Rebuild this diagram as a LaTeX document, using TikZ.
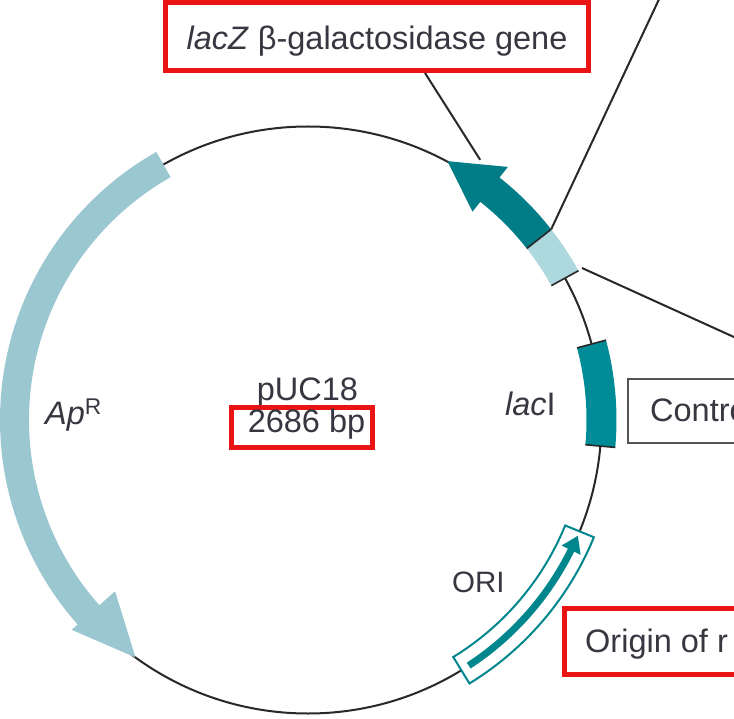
\documentclass[tikz,border=0pt]{standalone}
\usepackage{fontspec}
\setmainfont{Liberation Sans}
\usetikzlibrary{arrows.meta,bending}
\definecolor{apcol}{RGB}{155,200,208}
\definecolor{zcol}{RGB}{0,125,135}
\definecolor{lightcol}{RGB}{172,216,222}
\definecolor{icol}{RGB}{0,140,150}
\definecolor{oricol}{RGB}{0,135,142}
\definecolor{txtcol}{RGB}{55,55,65}
\definecolor{boxred}{RGB}{235,20,20}
\definecolor{linecol}{RGB}{40,40,40}
\tikzset{
  circline/.style={draw=linecol, line width=2pt},
  sepline/.style={draw=linecol, line width=1.6pt},
  leader/.style={draw=linecol, line width=2pt},
  redbox/.style={draw=boxred, line width=5pt, fill=white},
  graybox/.style={draw=linecol!80, line width=2.2pt, fill=white},
  lbl/.style={text=txtcol, inner sep=0pt, font=\fontsize{32.5}{38}\selectfont},
}
\begin{document}
\begin{tikzpicture}[x=1pt,y=1pt]
\useasboundingbox (-308,-298) rectangle (426,420);
\clip (-308,-298) rectangle (426,420);
\fill[white] (-308,-298) rectangle (426,420);
% plasmid circle
\draw[circline] (0,0) circle[radius=293.5];
% Ap^R arrow
\fill[apcol] (119.5:279) arc[start angle=119.5,end angle=221.6,radius=279]
  -- (221.6:258) -- (234:293.5) -- (221.6:316) -- (221.6:308)
  arc[start angle=221.6,end angle=119.5,radius=308] -- cycle;
% lacZ arrow
\fill[zcol] (38.1:278) arc[start angle=38.1,end angle=51.7,radius=278]
  -- (51.7:265.5) -- (61.7:294) -- (51.7:322.5) -- (51.7:309)
  arc[start angle=51.7,end angle=38.1,radius=309] -- cycle;
% control region (light box)
\fill[lightcol] (28.9:278) arc[start angle=28.9,end angle=38.1,radius=278]
  -- (38.1:309) arc[start angle=38.1,end angle=28.9,radius=309] -- cycle;
\draw[sepline] (38.1:278) -- (38.1:309);
\draw[sepline] (28.9:278) -- (28.9:309);
% lacI
\fill[icol] (-5.1:278.5) arc[start angle=-5.1,end angle=15,radius=278.5]
  -- (15:308.5) arc[start angle=15,end angle=-5.1,radius=308.5] -- cycle;
\draw[sepline] (15:278.5) -- (15:308.5);
\draw[sepline] (-5.1:278.5) -- (-5.1:308.5);
% ORI
\draw[draw=oricol, line width=2pt, fill=white] (-58.5:278) arc[start angle=-58.5,end angle=-22.3,radius=278]
  -- (-22.3:309) arc[start angle=-22.3,end angle=-58.5,radius=309] -- cycle;
\draw[oricol, line width=7pt, -{Triangle[length=16pt,width=20pt,bend]}] (-56.8:293.5) arc[start angle=-56.8,end angle=-23.2,radius=293.5];
% labels
\node[lbl, anchor=base west] (ap) at (-263,-4) {\textit{Ap}\textsuperscript{R}};
\node[lbl, anchor=base west] (laci) at (197,5) {\textit{lac}I};
\node[lbl, anchor=base west, font=\fontsize{29.5}{36}\selectfont] (ori) at (144,-172) {ORI};
\node[lbl, anchor=base] (puc) at (-0.5,20) {pUC18};
\draw[redbox] (-76.5,12.5) rectangle (64.5,-27.5);
\node[lbl, anchor=base] (bp) at (-1.5,-12) {2686 bp};
% lacZ label box
\draw[redbox] (-142.5,417.5) rectangle (280.5,349.5);
\node[lbl, anchor=base] (zlab) at (69,370) {\textit{lacZ} β-galactosidase gene};
% control box
\draw[graybox] (320,41) rectangle (460,-23);
\node[lbl, anchor=base west] (ctrl) at (342,-1) {Contro};
% origin box
\draw[redbox] (256.5,-188.5) rectangle (470,-254.5);
\node[lbl, anchor=base west] (orig) at (277,-232) {Origin of r};
% leader lines
\coordinate (zfoot) at (117,347);
\coordinate (ztip) at (56.5:312);
\coordinate (cu) at (38.1:309);
\coordinate (cuend) at (353,425);
\coordinate (cl) at (274,152);
\coordinate (clend) at (440,76.6);
\draw[leader] (zfoot) -- (ztip);
\draw[leader] (cu) -- (cuend);
\draw[leader] (cl) -- (clend);
\end{tikzpicture}
\end{document}
